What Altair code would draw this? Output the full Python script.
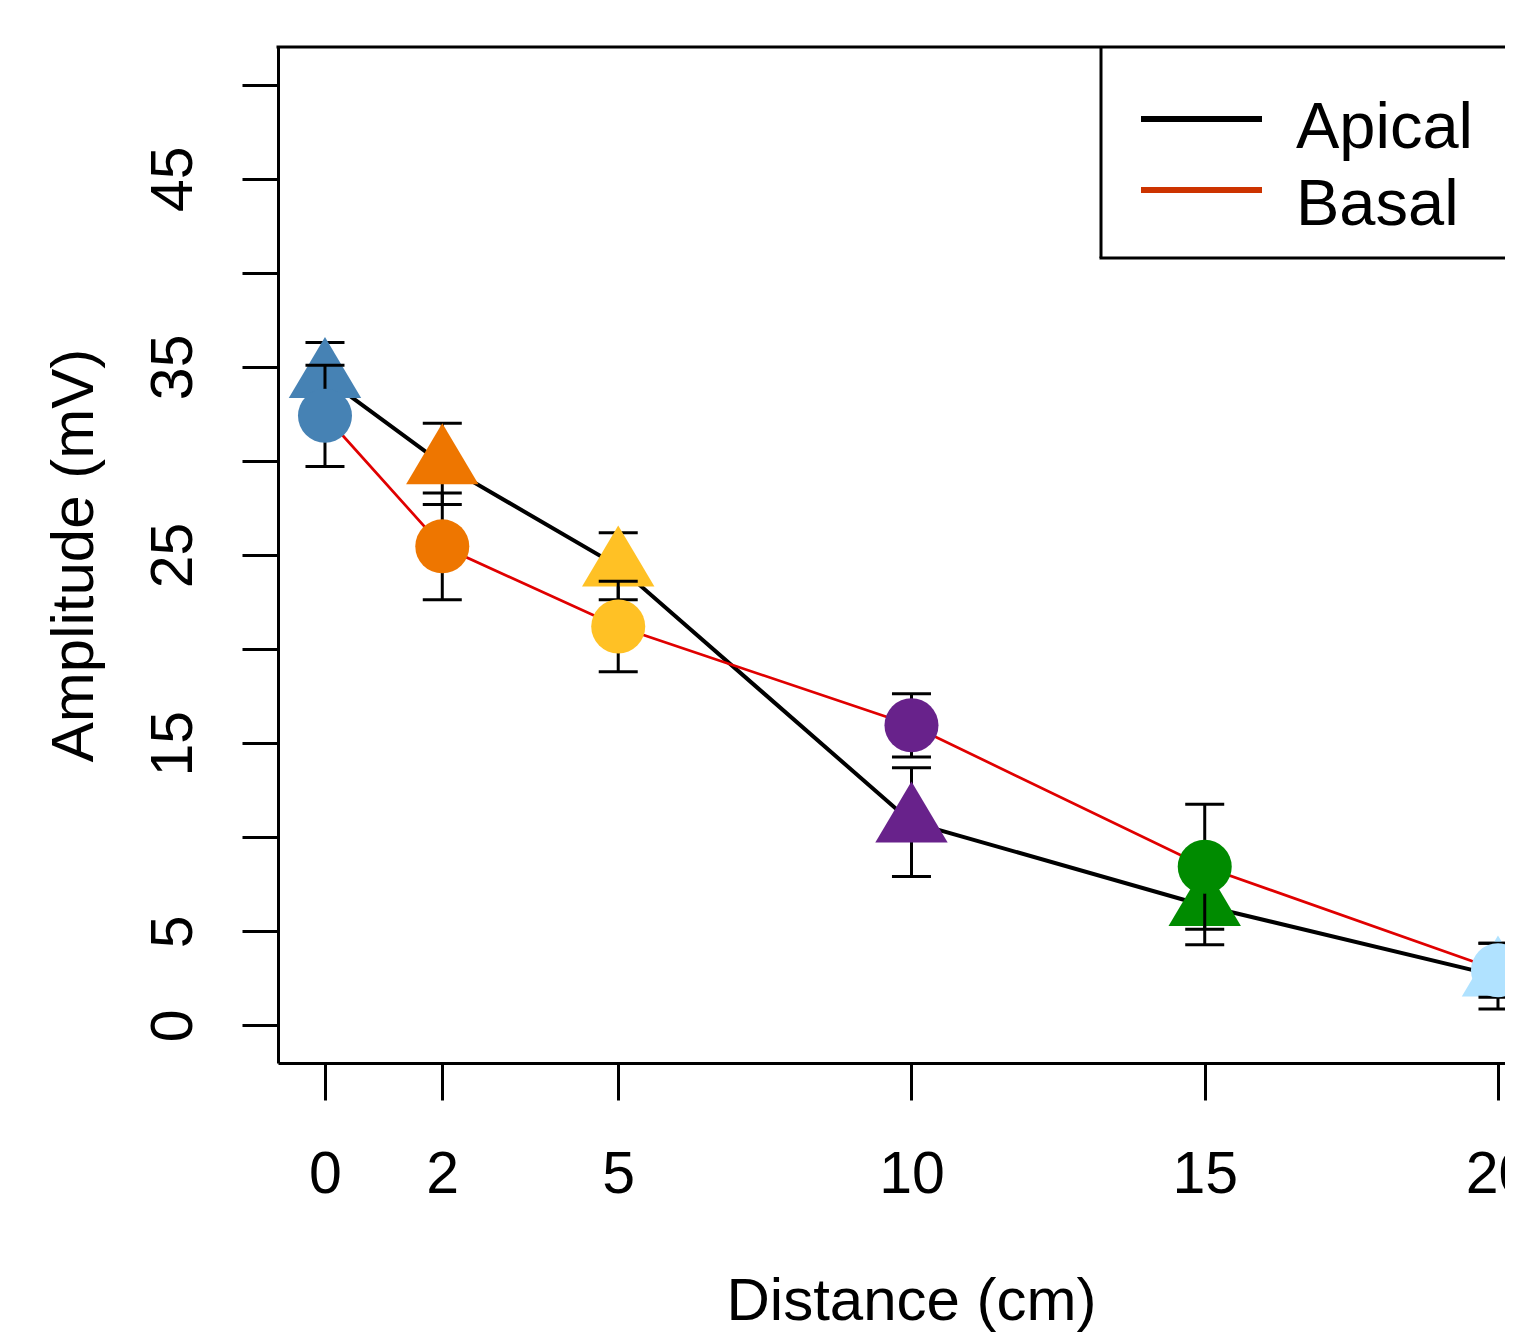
import altair as alt
import pandas as pd

# ---------------- data ----------------
distance = [0, 2, 5, 10, 15, 20]
apical_mean = [34.43, 29.84, 24.40, 10.80, 6.36, 2.62]
apical_se = [1.86, 2.16, 1.78, 2.89, 2.07, 1.75]
basal_mean = [32.40, 25.46, 21.20, 15.95, 8.43, 2.93]
basal_se = [2.69, 2.84, 2.41, 1.68, 3.32, 1.43]
point_colors = ["#4682B4", "#EE7600", "#FFC125", "#68228B", "#008B00", "#B0E2FF"]
series_names = ["Apical", "Basal"]
line_colors = ["#000000", "#E00000"]
legend_colors = ["#000000", "#CC3300"]
x_ticks = [0, 2, 5, 10, 15, 20]
y_ticks = list(range(0, 51, 5))
y_labels_shown = [0, 5, 15, 25, 35, 45]

W, H = 1227, 1016
FONT = "Liberation Sans"
TRIANGLE = "M0,-1L0.89,0.5L-0.89,0.5Z"


def make_df(mean, se):
    df = pd.DataFrame({"dist": distance, "mean": mean, "se": se, "color": point_colors})
    df["lo"] = df["mean"] - df["se"]
    df["hi"] = df["mean"] + df["se"]
    return df


apical = make_df(apical_mean, apical_se)
basal = make_df(basal_mean, basal_se)

xscale = alt.Scale(domain=[-0.801, -0.801 + W / 58.65], nice=False, zero=False)
yscale = alt.Scale(domain=[-2, 52], nice=False, zero=False)

x_axis = alt.Axis(
    values=x_ticks, tickSize=37, tickWidth=3, tickColor="black",
    domainColor="black", domainWidth=3, grid=False,
    labelFontSize=59, labelFont=FONT, labelColor="black",
    labelBaseline="alphabetic", labelPadding=92, labelFlush=False,
    labelOverlap=False, labelBound=False,
    title="Distance (cm)", titleFontSize=60, titleFont=FONT, titleColor="black",
    titleFontWeight="normal", titleX=633, titleY=256,
    titleBaseline="alphabetic", titleAlign="center",
)
shown = ",".join(str(v) for v in y_labels_shown)
y_axis = alt.Axis(
    values=y_ticks, tickSize=36, tickWidth=3, tickColor="black",
    domainColor="black", domainWidth=3, grid=False,
    labelFontSize=59, labelFont=FONT, labelColor="black",
    labelAngle=270, labelAlign="center", labelBaseline="alphabetic",
    labelPadding=51, labelOverlap=False, labelBound=False, labelFlush=False,
    labelExpr=f"indexof([{shown}], datum.value) >= 0 ? datum.label : ''",
    title="Amplitude (mV)", titleFontSize=60, titleFont=FONT, titleColor="black",
    titleFontWeight="normal", titleAngle=270, titleX=-186, titleY=508,
    titleBaseline="alphabetic", titleAlign="center",
)


def X():
    return alt.X("dist:Q", scale=xscale, axis=x_axis)


def Y(field):
    return alt.Y(f"{field}:Q", scale=yscale, axis=y_axis)


def error_layers(df):
    rule = alt.Chart(df).mark_rule(color="black", strokeWidth=3, opacity=1).encode(
        x=X(), y=Y("lo"), y2="hi:Q",
    )
    cap_lo = alt.Chart(df).mark_tick(orient="horizontal", size=39, thickness=3,
                                     color="black", opacity=1).encode(x=X(), y=Y("lo"))
    cap_hi = alt.Chart(df).mark_tick(orient="horizontal", size=39, thickness=3,
                                     color="black", opacity=1).encode(x=X(), y=Y("hi"))
    return [rule, cap_lo, cap_hi]


def line_layer(df, color, width):
    return alt.Chart(df).mark_line(color=color, strokeWidth=width).encode(x=X(), y=Y("mean"))


def point_layer(df, shape, size):
    return alt.Chart(df).mark_point(filled=True, shape=shape, size=size, opacity=1).encode(
        x=X(), y=Y("mean"), color=alt.Color("color:N", scale=None),
    )


one = alt.Data(values=[{}])
frame_top = alt.Chart(one).mark_rule(color="black", strokeWidth=3).encode(
    x=alt.value(-1.5), x2=alt.value(W + 5), y=alt.value(0)
)
leg_left = alt.Chart(one).mark_rule(color="black", strokeWidth=3).encode(
    x=alt.value(823), y=alt.value(0), y2=alt.value(211)
)
leg_bottom = alt.Chart(one).mark_rule(color="black", strokeWidth=3).encode(
    x=alt.value(821.5), x2=alt.value(W + 5), y=alt.value(211)
)
legend_layers = []
for name, col, ly, ty in zip(series_names, legend_colors, [72, 143], [101, 178]):
    legend_layers.append(
        alt.Chart(one).mark_rule(color=col, strokeWidth=6).encode(
            x=alt.value(863), x2=alt.value(984), y=alt.value(ly)
        )
    )
    legend_layers.append(
        alt.Chart(one).mark_text(align="left", baseline="alphabetic", fontSize=65,
                                 font=FONT, color="black").encode(
            x=alt.value(1018), y=alt.value(ty), text=alt.value(name)
        )
    )

layers = (
    error_layers(apical)
    + [line_layer(apical, line_colors[0], 4), point_layer(apical, TRIANGLE, 6615)]
    + error_layers(basal)
    + [line_layer(basal, line_colors[1], 2.7), point_layer(basal, "circle", 2916)]
    + [frame_top, leg_left, leg_bottom]
    + legend_layers
)

chart = alt.layer(*layers).properties(
    width=W, height=H,
    padding={"left": 270, "top": 39, "right": 0, "bottom": 270},
    autosize=alt.AutoSizeParams(type="none"),
).configure_view(stroke=None)

chart.save("out.html", embed_options={"renderer": "svg", "actions": False})
